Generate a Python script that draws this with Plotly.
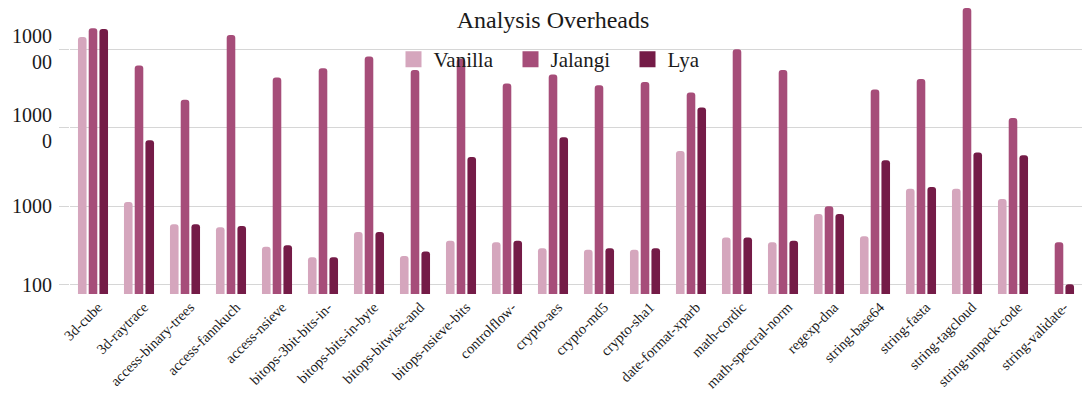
import plotly.graph_objects as go

categories = ["3d-cube", "3d-raytrace", "access-binary-trees", "access-fannkuch",
              "access-nsieve", "bitops-3bit-bits-in-", "bitops-bits-in-byte",
              "bitops-bitwise-and", "bitops-nsieve-bits", "controlflow-", "crypto-aes",
              "crypto-md5", "crypto-sha1", "date-format-xparb", "math-cordic",
              "math-spectral-norm", "regexp-dna", "string-base64", "string-fasta",
              "string-tagcloud", "string-unpack-code", "string-validate-"]

vanilla = [143000, 1135, 589, 540, 305, 223, 470, 232, 364, 347, 291, 279, 279, 5070,
           398, 347, 798, 414, 1675, 1675, 1240, None]
jalangi = [186000, 62000, 22700, 151700, 43600, 57500, 80900, 54300, 75000, 36600, 47800,
           34900, 38200, 28100, 100000, 54300, 1000, 30700, 41700, 335000, 13360, 347]
lya = [181000, 6950, 589, 561, 318, 223, 470, 264, 4250, 364, 7580, 291, 291, 18100,
       398, 364, 798, 3860, 1763, 4830, 4470, 101]

tick_vals = [100, 1000, 10000, 100000]
tick_text = ["100", "1000", "1000<br>0", "1000<br>00"]

series = [("Vanilla", vanilla, "#d5a6bd"),
          ("Jalangi", jalangi, "#a64d79"),
          ("Lya", lya, "#741b47")]

SERIF = "Liberation Serif"
fig = go.Figure()
for name, vals, col in series:
    fig.add_trace(go.Bar(name=name, x=categories, y=vals, marker_color=col,
                         marker_line_width=0, showlegend=False, legendgroup=name))
# legend entries with larger square swatches
for name, vals, col in series:
    fig.add_trace(go.Scatter(name=name, x=[None], y=[None], mode="markers",
                             marker=dict(symbol="square", size=16, color=col),
                             showlegend=True, legendgroup=name))

fig.update_layout(
    width=1083, height=394,
    margin=dict(l=70, r=1, t=2, b=100, autoexpand=False),
    paper_bgcolor="white", plot_bgcolor="white",
    barmode="group", bargap=0.30, bargroupgap=0.2, barcornerradius=3,
    font=dict(family=SERIF, color="#1a1a1a"),
    title=dict(text="Analysis Overheads", x=553/1083, xanchor="center",
               y=1 - 19.5/394, yanchor="middle", xref="container", yref="container",
               font=dict(family=SERIF, size=24, color="#1a1a1a")),
    legend=dict(orientation="h", x=(569 - 70) / 1012, xanchor="center", y=0.803,
                yanchor="middle", entrywidth=72, itemsizing="trace",
                font=dict(family=SERIF, size=21, color="#1a1a1a"),
                bgcolor="rgba(0,0,0,0)", traceorder="normal"),
    showlegend=True,
)
fig.update_yaxes(type="log", range=[1.881, 5.603], tickvals=tick_vals, ticktext=tick_text,
                 showgrid=True, gridcolor="#d6d6d6", gridwidth=1,
                 ticks="outside", ticklen=10, tickcolor="#d6d6d6", tickwidth=1,
                 ticklabelstandoff=3, automargin=False,
                 showline=False, zeroline=False,
                 tickfont=dict(family=SERIF, size=20, color="#1a1a1a"))
fig.update_xaxes(type="category", tickangle=-45, showgrid=False, showline=False,
                 zeroline=False, ticks="", ticklabelstandoff=1, ticklabelshift=5,
                 automargin=False,
                 tickfont=dict(family=SERIF, size=14.5, color="#1a1a1a"))

fig.write_html("out.html")
